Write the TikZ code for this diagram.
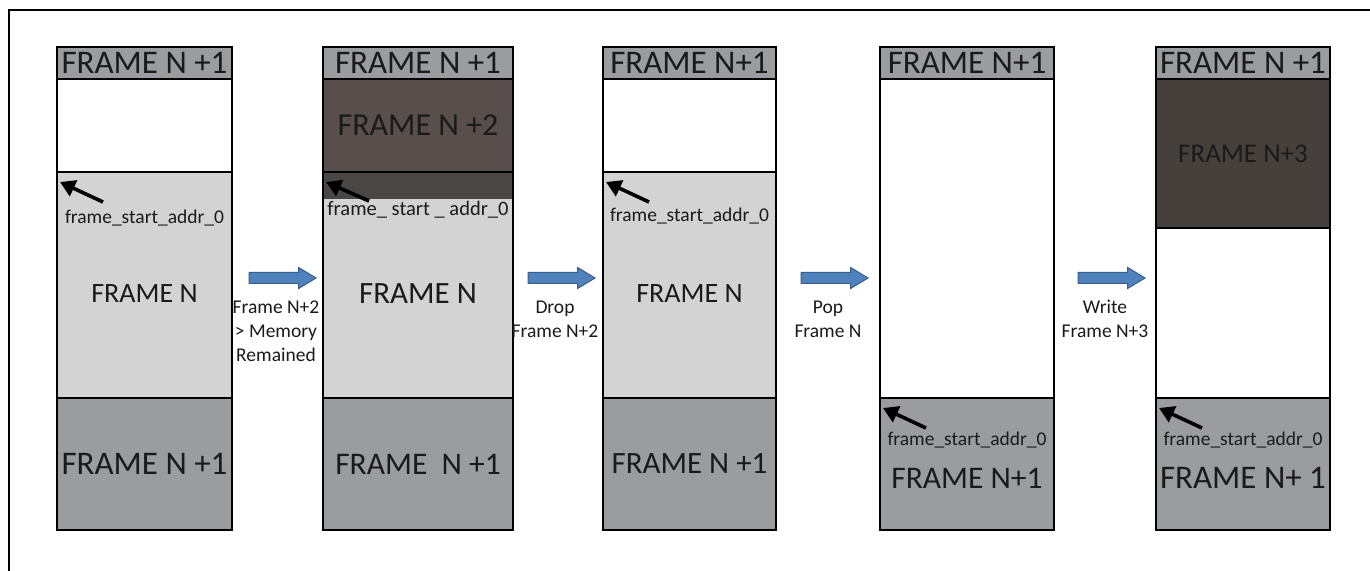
\documentclass[tikz,border=0pt]{standalone}
\usepackage{fontspec}
\setmainfont{Carlito}
\usetikzlibrary{arrows.meta,positioning,shapes.arrows}
\definecolor{slotgray}{RGB}{155,156,160}
\definecolor{usedgray}{RGB}{211,211,211}
\definecolor{nextbrown}{RGB}{88,78,75}
\definecolor{overlapgray}{RGB}{75,70,70}
\definecolor{newbrown}{RGB}{70,64,60}
\definecolor{stepblue}{RGB}{79,129,189}
\definecolor{stepedge}{RGB}{56,93,138}
\definecolor{inkgray}{RGB}{26,26,26}
\newcommand{\fsz}[1]{\fontsize{#1}{#1}\selectfont}

\begin{document}
\begin{tikzpicture}[x=1pt,y=1pt,node distance=0pt,
    seg/.style={rectangle,draw=black,line width=2.1pt,outer sep=0pt,inner sep=0pt,
      text=inkgray,font=\fsz{33}},
    hdr/.style={seg,fill=slotgray,minimum height=32pt},
    freebox/.style={seg,fill=white},
    usedbox/.style={seg,fill=usedgray},
    slotbox/.style={seg,fill=slotgray,minimum height=132pt},
    bigtext/.style={font=\fsz{28},text=inkgray,inner sep=0pt},
    addr/.style={font=\fsz{19.5},text=inkgray,inner sep=0pt},
    ptr/.style={-{Triangle[length=15pt,width=17pt]},line width=3.6pt},
    stepper/.style={single arrow,draw=stepedge,fill=stepblue,line width=1pt,
      inner sep=5pt,single arrow head extend=5pt,single arrow tip angle=62,
      minimum height=67pt},
    steptext/.style={align=center,font=\fontsize{19.5}{24}\selectfont,text=inkgray,inner sep=0pt}]
  \useasboundingbox (0,0) rectangle (1370,570);
  \draw[line width=1.4pt] (9,-5) -- (9,560) -- (1375,560);

  % column 1
  \node[hdr,minimum width=175pt] (h1) at (144.5,507) {FRAME N +1};
  \node[freebox,minimum width=175pt,minimum height=93pt,below=of h1] (w1) {};
  \node[usedbox,minimum width=175pt,minimum height=226pt,below=of w1] (u1) {};
  \node[slotbox,minimum width=175pt,below=of u1] (s1) {FRAME N +1};
  \node[bigtext] (n1) at ([yshift=-9pt]u1.center) {FRAME N};
  \node[addr] (f1) at ([yshift=-46pt]u1.north) {frame\_start\_addr\_0};
  \draw[ptr] ([shift={(46,-30)}]u1.north west) -- ([shift={(3,-10)}]u1.north west);

  % column 2
  \node[hdr,minimum width=190pt] (h2) at (418,507) {FRAME N +1};
  \node[seg,fill=nextbrown,font=\fsz{32},minimum width=190pt,minimum height=93pt,below=of h2] (x2) {FRAME N +2};
  \node[usedbox,minimum width=190pt,minimum height=226pt,below=of x2] (u2) {};
  \node[slotbox,font=\fsz{31.5},minimum width=190pt,below=of u2] (s2) {FRAME~~N +1};
  \node[fill=overlapgray,inner sep=0pt,minimum width=187.9pt,minimum height=26pt,anchor=north]
    (b2) at ([yshift=-1.05pt]u2.north) {};
  \node[bigtext,font=\fsz{31}] (n2) at ([yshift=-9pt]u2.center) {FRAME N};
  \node[addr,font=\fsz{20.5}] (f2) at ([yshift=-38pt]u2.north) {frame\_ start \_ addr\_0};
  \draw[ptr] ([shift={(46,-29)}]u2.north west) -- ([shift={(3,-10)}]u2.north west);

  % column 3
  \node[hdr,minimum width=173pt] (h3) at (689.5,507) {FRAME N+1};
  \node[freebox,minimum width=173pt,minimum height=93pt,below=of h3] (w3) {};
  \node[usedbox,minimum width=173pt,minimum height=226pt,below=of w3] (u3) {};
  \node[slotbox,font=\fsz{31},minimum width=173pt,below=of u3] (s3) {FRAME N +1};
  \node[bigtext] (n3) at ([yshift=-9pt]u3.center) {FRAME N};
  \node[addr] (f3) at ([yshift=-44pt]u3.north) {frame\_start\_addr\_0};
  \draw[ptr] ([shift={(46,-30)}]u3.north west) -- ([shift={(3,-10)}]u3.north west);

  % column 4
  \node[hdr,minimum width=174pt] (h4) at (967,507) {FRAME N+1};
  \node[freebox,minimum width=174pt,minimum height=319pt,below=of h4] (w4) {};
  \node[slotbox,minimum width=174pt,below=of w4] (s4) {};
  \node[bigtext,font=\fsz{31.5}] (n4) at ([yshift=-14pt]s4.center) {FRAME N+1};
  \node[addr] (f4) at ([yshift=-42pt]s4.north) {frame\_start\_addr\_0};
  \draw[ptr] ([shift={(46,-30)}]s4.north west) -- ([shift={(3,-10)}]s4.north west);

  % column 5
  \node[hdr,minimum width=174pt] (h5) at (1243,507) {FRAME N +1};
  \node[seg,fill=newbrown,font=\fsz{27},minimum width=174pt,minimum height=149pt,below=of h5] (x5) {FRAME N+3};
  \node[freebox,minimum width=174pt,minimum height=170pt,below=of x5] (w5) {};
  \node[slotbox,minimum width=174pt,below=of w5] (s5) {};
  \node[bigtext,font=\fsz{33}] (n5) at ([yshift=-14pt]s5.center) {FRAME N+ 1};
  \node[addr] (f5) at ([yshift=-42pt]s5.north) {frame\_start\_addr\_0};
  \draw[ptr] ([shift={(46,-30)}]s5.north west) -- ([shift={(3,-10)}]s5.north west);

  % steps between the columns
  \node[stepper] (a1) at (278,292) {};
  \node[stepper] (a2) at (557,292) {};
  \node[stepper] (a3) at (830,292) {};
  \node[stepper] (a4) at (1107,292) {};
  \node[steptext] (t1) at (276,239) {Frame N+2\\> Memory\\Remained};
  \node[steptext] (t2) at (555,251) {Drop\\Frame N+2};
  \node[steptext] (t3) at (828,251) {Pop\\Frame N};
  \node[steptext] (t4) at (1105,251) {Write\\Frame N+3};
\end{tikzpicture}
\end{document}
